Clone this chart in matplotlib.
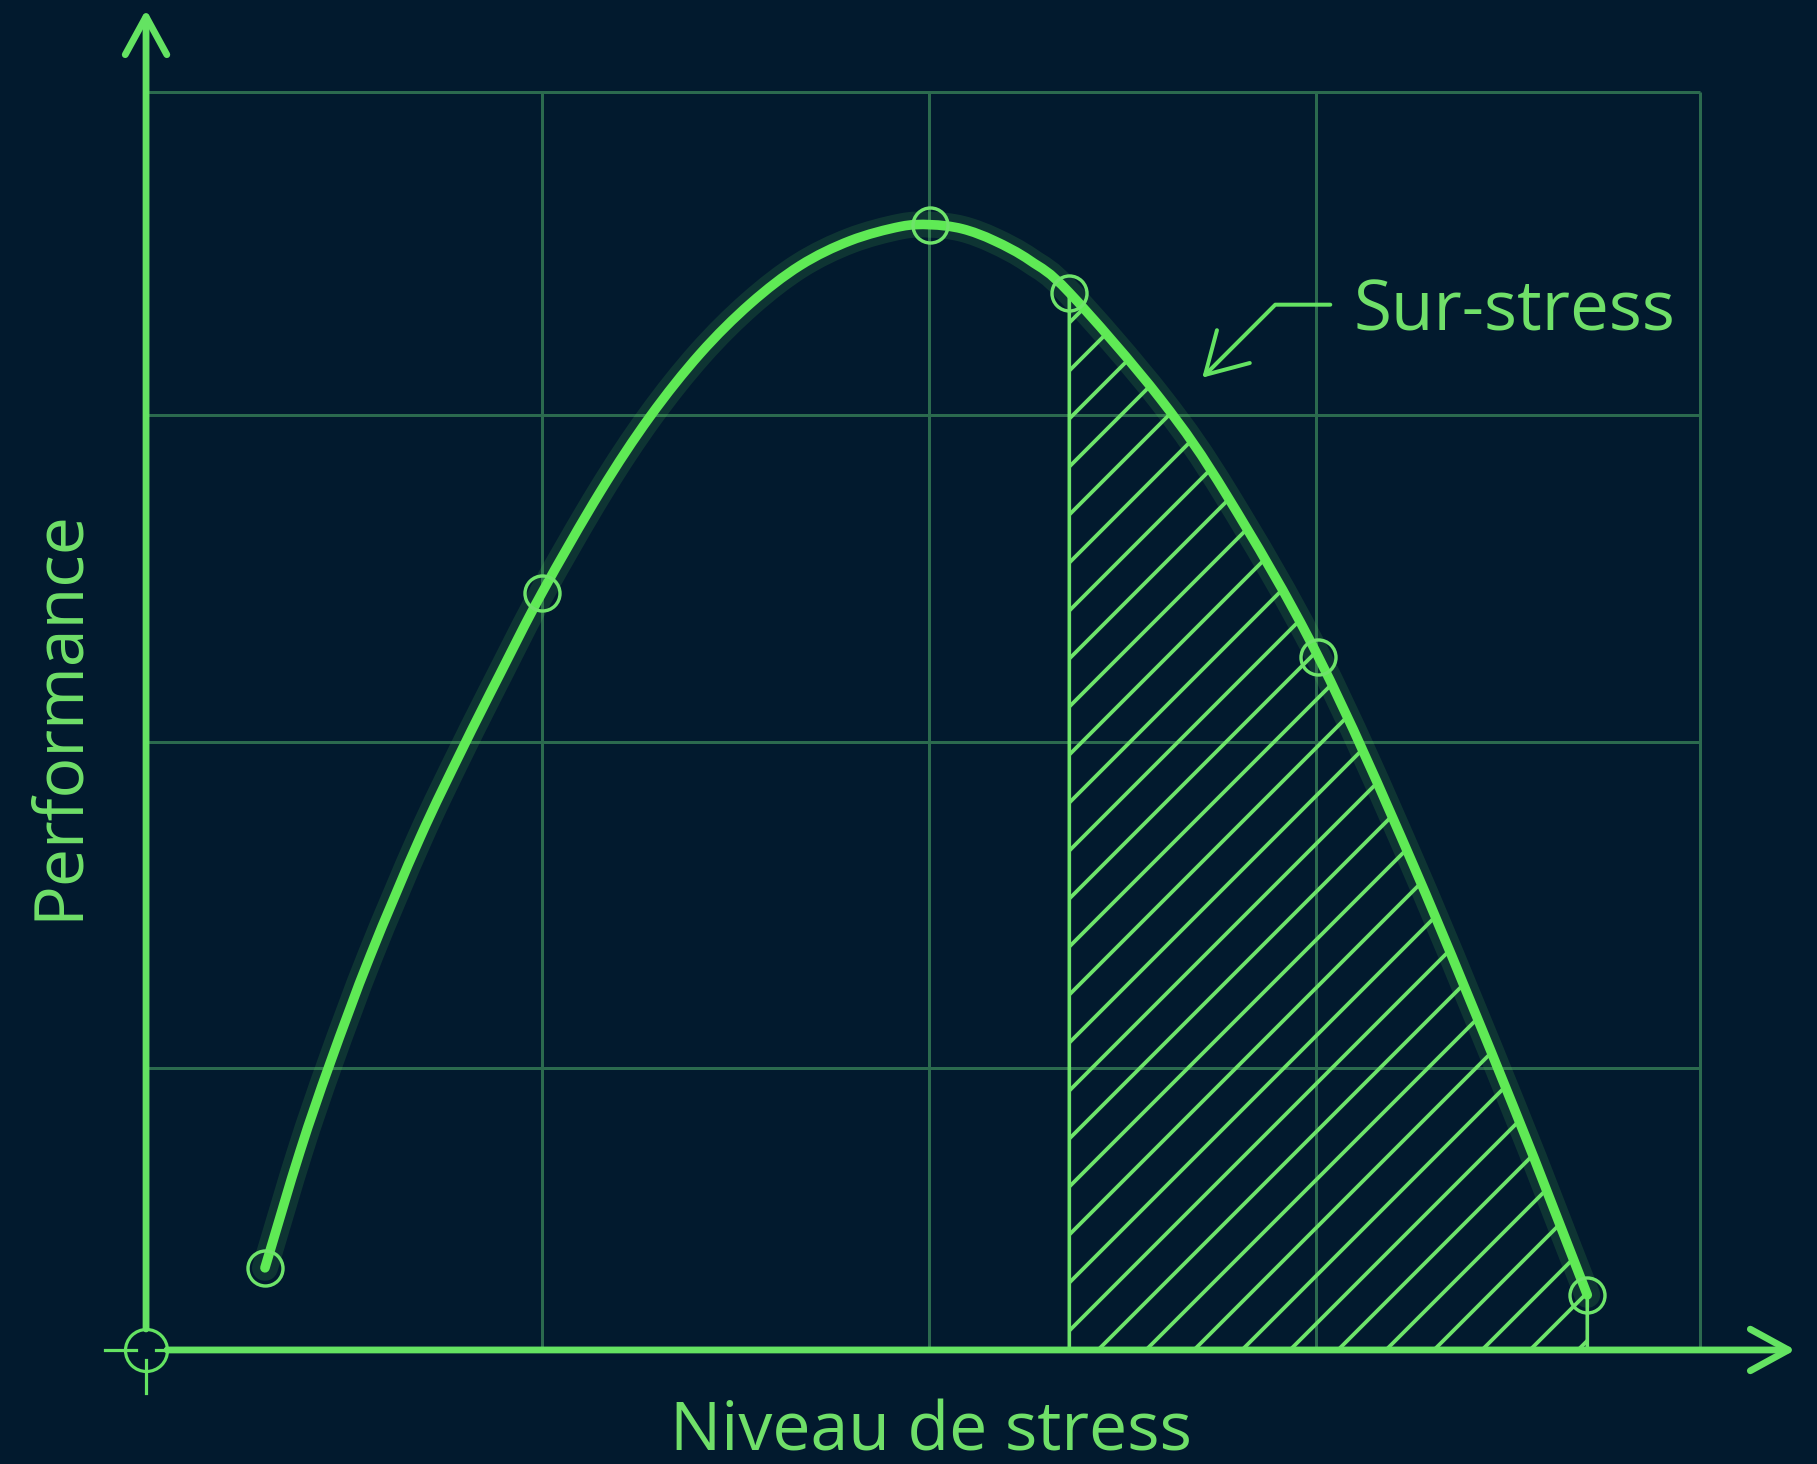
import matplotlib
matplotlib.use("Agg")
import matplotlib.pyplot as plt
import numpy as np
from matplotlib.path import Path
from matplotlib.patches import PathPatch

# ---------------- data ----------------
stress = [0.306, 0.396, 0.474, 0.577, 0.705, 0.813, 0.911, 1.019, 1.169, 1.297,
          1.426, 1.555, 1.683, 1.812, 1.941, 2.018, 2.100, 2.183, 2.275, 2.376,
          2.610, 2.782, 3.017, 3.261, 3.519, 3.709]
performance = [0.261, 0.630, 0.913, 1.253, 1.628, 1.908, 2.149, 2.407, 2.728, 2.967,
               3.167, 3.326, 3.447, 3.526, 3.571, 3.577, 3.564, 3.526, 3.463, 3.361,
               3.024, 2.715, 2.203, 1.542, 0.773, 0.175]
marker_stress = [0.306, 1.019, 2.018, 2.376, 3.017, 3.709]
marker_perf = [0.261, 2.407, 3.577, 3.361, 2.203, 0.175]
overstress_start = 2.376
overstress_end = 3.709
grid_x = [1.019, 2.015, 3.012, 4.0]
grid_y = [0.897, 1.933, 2.973, 4.0]
x_label = "Niveau de stress"
y_label = "Performance"
annot_label = "Sur-stress"

# ---------------- style ----------------
BG = "#021a2e"
CURVE = "#5fea55"
TEXT = "#70e069"
AXIS = "#64e362"
GRID = "#2b6a4e"
HATCH = "#6ee46a"

DPI = 288
W, H = 1817, 1464
XU, YU = 388.5, 314.5          # pixels per data unit
X0, Y0 = 146, 1350             # origin in pixels

plt.rcParams["hatch.linewidth"] = 0.95
plt.rcParams["hatch.color"] = HATCH
plt.rcParams["font.family"] = ["Open Sans", "DejaVu Sans"]

fig = plt.figure(figsize=((W + 0.4) / DPI, (H + 0.4) / DPI), dpi=DPI)
fig.patch.set_facecolor(BG)
ax = fig.add_axes([0, 0, 1, 1])
ax.set_facecolor(BG)
ax.set_xlim(-X0 / XU, (W - X0) / XU)
ax.set_ylim(-(H - Y0) / YU, Y0 / YU)
ax.axis("off")


def dx(p):
    return p / XU


def dy(p):
    return p / YU


def smooth_segments(xs, ys):
    """Catmull-Rom segments (as cubic Bezier control points) through the points."""
    pts = np.column_stack([xs, ys]).astype(float)
    ext = np.vstack([2 * pts[0] - pts[1], pts, 2 * pts[-1] - pts[-2]])
    segs = []
    for i in range(1, len(ext) - 2):
        p0, p1, p2, p3 = ext[i - 1], ext[i], ext[i + 1], ext[i + 2]
        segs.append((p1 + (p2 - p0) / 6.0, p2 - (p3 - p1) / 6.0, p2))
    return pts, segs


pts, segs = smooth_segments(stress, performance)

# grid
ax.vlines(grid_x, 0, grid_y[-1], color=GRID, lw=0.75, zorder=1)
ax.hlines(grid_y, 0, grid_x[-1], color=GRID, lw=0.75, zorder=1)

# hatched over-stress region (under the smooth curve)
i0 = int(np.argmin(np.abs(np.array(stress) - overstress_start)))
i1 = int(np.argmin(np.abs(np.array(stress) - overstress_end)))
hv = [(pts[i0][0], 0.0), tuple(pts[i0])]
hc = [Path.MOVETO, Path.LINETO]
for k in range(i0, i1):
    for v in segs[k]:
        hv.append(tuple(v))
        hc.append(Path.CURVE4)
hv += [(pts[i1][0], 0.0), (pts[i0][0], 0.0)]
hc += [Path.LINETO, Path.CLOSEPOLY]
ax.add_patch(PathPatch(Path(hv, hc), facecolor="none", edgecolor=HATCH,
                       hatch="//", lw=0.9, zorder=2))

# axes with arrows
r = 21
arrow_style = "->,head_length=0.95,head_width=0.52"
ax.annotate("", xy=(dx(1795 - X0), 0), xytext=(dx(r), 0),
            arrowprops=dict(arrowstyle=arrow_style, lw=1.7, color=AXIS,
                            shrinkA=0, shrinkB=0, mutation_scale=10), zorder=4)
ax.annotate("", xy=(0, dy(Y0 - 10)), xytext=(0, dy(r)),
            arrowprops=dict(arrowstyle=arrow_style, lw=1.7, color=AXIS,
                            shrinkA=0, shrinkB=0, mutation_scale=10), zorder=4)
# origin crosshair
ax.plot([0], [0], "o", ms=10.5, mfc="none", mec=AXIS, mew=0.8, zorder=4)
ax.plot([dx(-41), dx(-10)], [0, 0], color=AXIS, lw=0.8, zorder=4)
ax.plot([dx(10), dx(r)], [0, 0], color=AXIS, lw=0.8, zorder=4)
ax.plot([0, 0], [dy(-10), dy(-43)], color=AXIS, lw=0.8, zorder=4)

# smooth curve with soft glow
cv = [tuple(pts[0])]
cc = [Path.MOVETO]
for seg in segs:
    for v in seg:
        cv.append(tuple(v))
        cc.append(Path.CURVE4)
curve_path = Path(cv, cc)
ax.add_patch(PathPatch(curve_path, fill=False, edgecolor=CURVE, lw=6.5, alpha=0.13,
                       capstyle="round", zorder=5))
ax.add_patch(PathPatch(curve_path, fill=False, edgecolor=CURVE, lw=2.4,
                       capstyle="round", joinstyle="round", zorder=6))
ax.plot(marker_stress, marker_perf, "o", ms=8.75, mfc="none", mec=HATCH,
        mew=0.85, zorder=7)

# annotation
ax.annotate("", xy=(dx(1202 - X0), dy(Y0 - 378)), xytext=(dx(1330 - X0), dy(Y0 - 305)),
            arrowprops=dict(arrowstyle="->,head_length=1.0,head_width=0.58", lw=1.0,
                            color=AXIS, shrinkA=0, shrinkB=0, mutation_scale=10,
                            connectionstyle="angle,angleA=0,angleB=45,rad=0"),
            zorder=8)
ax.text(dx(1353 - X0), dy(Y0 - 330), annot_label, color=TEXT, fontsize=17.3,
        ha="left", va="baseline", zorder=8)

# axis labels
ax.text(dx(931 - X0), dy(Y0 - 1450), x_label, color=TEXT, fontsize=17.0,
        ha="center", va="baseline", zorder=8)
ax.text(dx(77 - X0), dy(Y0 - 714), y_label, color=TEXT, fontsize=17.0,
        rotation=90, rotation_mode="anchor", ha="center", va="baseline", zorder=8)

fig.savefig("out.png", dpi=DPI, facecolor=BG)
